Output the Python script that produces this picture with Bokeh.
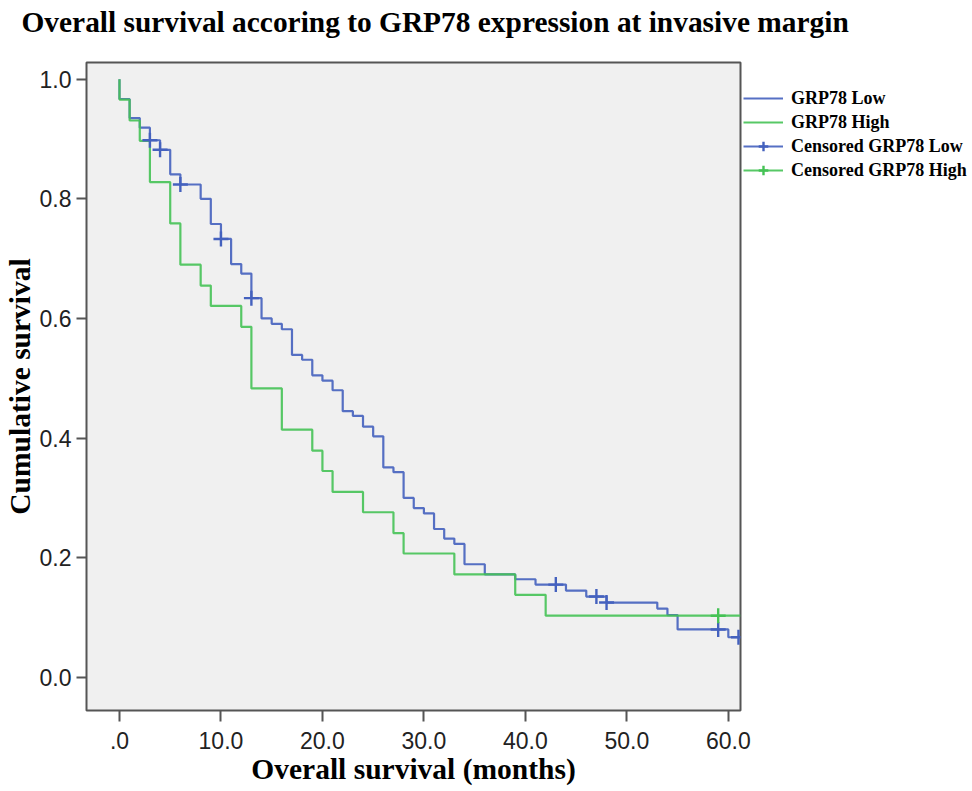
from bokeh.plotting import figure
from bokeh.models import Legend, LegendItem, FixedTicker, Range1d, Title
from bokeh.embed import file_html
from bokeh.resources import INLINE

# ---- data ----
low_time = [0, 0, 1, 2, 3, 4, 5, 6, 8, 9, 10, 11, 12, 13, 14, 15, 16, 17, 18, 19, 20,
            21, 22, 23, 24, 25, 26, 27, 28, 29, 30, 31, 32, 33, 34, 36, 39, 41, 44, 46,
            48, 53, 54, 55, 60, 61]
low_surv = [1.0, 0.967, 0.935, 0.919, 0.898, 0.882, 0.841, 0.824, 0.800, 0.758, 0.733,
            0.691, 0.675, 0.634, 0.600, 0.591, 0.582, 0.539, 0.531, 0.505, 0.496, 0.480,
            0.445, 0.437, 0.419, 0.403, 0.351, 0.343, 0.300, 0.283, 0.274, 0.248, 0.232,
            0.223, 0.189, 0.172, 0.164, 0.155, 0.145, 0.135, 0.125, 0.115, 0.104, 0.080,
            0.067, 0.067]
high_time = [0, 0, 1, 2, 3, 5, 6, 8, 9, 12, 13, 16, 19, 20, 21, 24, 27, 28, 33, 39, 42, 61.2]
high_surv = [1.0, 0.966, 0.931, 0.897, 0.828, 0.759, 0.690, 0.655, 0.621, 0.586, 0.483,
             0.414, 0.379, 0.345, 0.310, 0.276, 0.241, 0.207, 0.172, 0.138, 0.103, 0.103]
low_cens_time = [3, 4, 6, 10, 13, 43, 47, 48, 59, 61]
low_cens_surv = [0.898, 0.882, 0.824, 0.733, 0.634, 0.155, 0.135, 0.125, 0.080, 0.067]
high_cens_time = [59]
high_cens_surv = [0.103]

x_ticks = [0, 10, 20, 30, 40, 50, 60]
x_tick_labels = [".0", "10.0", "20.0", "30.0", "40.0", "50.0", "60.0"]
y_ticks = [0.0, 0.2, 0.4, 0.6, 0.8, 1.0]
y_tick_labels = ["0.0", "0.2", "0.4", "0.6", "0.8", "1.0"]

series_names = ["GRP78 Low", "GRP78 High", "Censored GRP78 Low", "Censored GRP78 High"]

BLUE = "#4461BE"
GREEN = "#45C255"
SERIF = "Liberation Serif"
SANS = "Liberation Sans"

p = figure(frame_width=654, frame_height=648, output_backend="svg", toolbar_location=None,
           x_range=Range1d(-3.25, 61.2), y_range=Range1d(-0.0555, 1.028),
           min_border_left=82, min_border_right=10, min_border_top=62,
           min_border_bottom=60,
           title="Overall survival accoring to GRP78 expression at invasive margin")

p.background_fill_color = "#F0F0F0"
p.border_fill_color = "white"
p.outline_line_color = "#555555"
p.outline_line_width = 2
p.xgrid.visible = False
p.ygrid.visible = False

p.title.text_font = SERIF
p.title.text_font_style = "bold"
p.title.text_font_size = "29.4px"
p.title.text_color = "black"
p.title.align = "left"
p.title.offset = -65
p.title.vertical_align = "top"
p.title.standoff = 10

# blank gap between the title and the plot frame
p.add_layout(Title(text=" ", text_font_size="2px", standoff=14), "above")

xa = p.below[0]
ya = p.left[0]

for ax in (xa, ya):
    ax.axis_line_color = None
    ax.major_tick_line_color = "#555555"
    ax.major_tick_line_width = 2
    ax.major_tick_in = 0
    ax.minor_tick_line_color = None
    ax.major_label_text_font = SANS
    ax.major_label_text_font_size = "23px"
    ax.major_label_text_color = "#222222"
    ax.axis_label_text_font = SERIF
    ax.axis_label_text_font_style = "bold"
    ax.axis_label_text_font_size = "29.5px"
    ax.axis_label_text_color = "black"

xa.ticker = FixedTicker(ticks=x_ticks)
xa.major_label_overrides = dict(zip(x_ticks, x_tick_labels))
xa.axis_label = "Overall survival (months)"
xa.major_tick_out = 11
xa.major_label_standoff = 10
xa.axis_label_standoff = 1

ya.ticker = FixedTicker(ticks=y_ticks)
ya.major_label_overrides = dict(zip(y_ticks, y_tick_labels))
ya.axis_label = "Cumulative survival"
ya.major_tick_out = 10
ya.major_label_standoff = 5
ya.axis_label_standoff = 1

r_low = p.step(low_time, low_surv, mode="after", line_color=BLUE, line_width=2.2,
               line_alpha=0.9)
r_high = p.step(high_time, high_surv, mode="after", line_color=GREEN, line_width=2.2,
                line_alpha=0.9)
c_low = p.scatter(low_cens_time, low_cens_surv, marker="cross", size=15,
                  line_color=BLUE, line_width=2.4)
c_high = p.scatter(high_cens_time, high_cens_surv, marker="cross", size=15,
                   line_color=GREEN, line_width=2.4)

legend = Legend(items=[
    LegendItem(label=series_names[0], renderers=[r_low]),
    LegendItem(label=series_names[1], renderers=[r_high]),
    LegendItem(label=series_names[2], renderers=[r_low, c_low]),
    LegendItem(label=series_names[3], renderers=[r_high, c_high]),
], location="top_left", margin=3, padding=0, spacing=0,
    title=" ", title_text_font_size="10px", title_standoff=10,
    glyph_width=40, glyph_height=24, label_height=24, label_standoff=8,
    label_text_font=SERIF, label_text_font_style="bold",
    label_text_font_size="18px", label_text_color="black",
    border_line_color=None, background_fill_alpha=0)
p.add_layout(legend, "right")

open("out.html", "w").write(file_html(p, INLINE))
